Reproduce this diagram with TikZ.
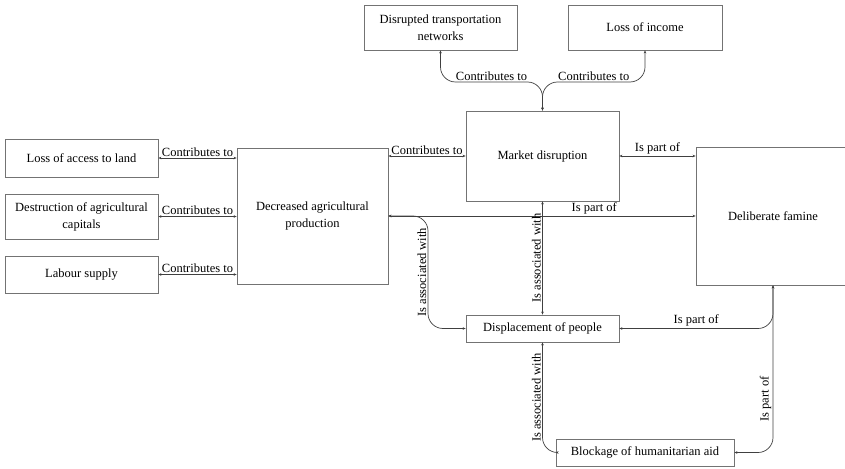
\documentclass[tikz,border=0pt]{standalone}
\usepackage{fontspec}
\setmainfont{Liberation Serif}
\usepackage{xcolor}
\usepackage{tikz}
\usetikzlibrary{arrows.meta}
\definecolor{boxgray}{gray}{0.45}
\definecolor{linegray}{gray}{0.25}

\tikzset{
  box/.style={draw=boxgray,line width=0.8pt,align=center,inner sep=2pt,
    font=\fontsize{12.5}{17}\selectfont},
  conn/.style={draw=linegray,line width=0.7pt,rounded corners=15pt,
    {Stealth[length=3pt,width=2.6pt]}-{Stealth[length=3pt,width=2.6pt]}},
  lbl/.style={inner sep=1.5pt,font=\fontsize{12.5}{14}\selectfont}
}

\begin{document}
\begin{tikzpicture}[x=1pt,y=-1pt]
\useasboundingbox (0,0) rectangle (845,468);
\node[box,minimum width=153pt,minimum height=45pt] (dtn) at (440.5,27.5) {Disrupted transportation\\networks};
\node[box,minimum width=154pt,minimum height=45pt] (loi) at (645,27.5) {Loss of income};
\node[box,minimum width=153pt,minimum height=90pt] (mkt) at (542.5,156) {Market disruption};
\node[box,minimum width=154pt,minimum height=138pt] (fam) at (773,216) {Deliberate famine};
\node[box,minimum width=151pt,minimum height=136pt] (dap) at (312.5,216) {Decreased agricultural\\production};
\node[box,minimum width=153pt,minimum height=38pt] (lal) at (81.5,158) {Loss of access to land};
\node[box,minimum width=153pt,minimum height=45pt] (dac) at (81.5,216.5) {Destruction of agricultural\\capitals};
\node[box,minimum width=153pt,minimum height=37pt] (lab) at (81.5,274.5) {Labour supply};
\node[box,minimum width=153pt,minimum height=27pt] (dis) at (542.5,328.5) {Displacement of people};
\node[box,minimum width=178pt,minimum height=27pt] (blk) at (645,452.5) {Blockage of humanitarian aid};

\coordinate (split) at (542.5,82);
\coordinate (bend) at (428,216);

% contributes to
\draw[conn] (lal.east) -- (dap.west |- lal.east) node[midway,above,lbl] {Contributes to};
\draw[conn] (dac.east) -- (dap.west |- dac.east) node[midway,above,lbl] {Contributes to};
\draw[conn] (lab.east) -- (dap.west |- lab.east) node[midway,above,lbl] {Contributes to};
\draw[conn] (dap.east |- mkt.west) -- (mkt.west) node[midway,above,lbl] {Contributes to};
\draw[conn] (dtn.south) |- node[pos=0.75,above,lbl] {Contributes to} (split) -- (mkt.north);
\draw[conn] (loi.south) |- node[pos=0.75,above,lbl] {Contributes to} (split) -- (mkt.north);

% is part of
\draw[conn] (mkt.east) -- (fam.west |- mkt.east) node[midway,above,lbl] {Is part of};
\draw[conn] (fam.west) -- (dap.east) node[pos=0.33,above,lbl] {Is part of};
\draw[conn] (dis.east) -| node[pos=0.25,above,lbl] {Is part of} (fam.south);
\draw[conn] (blk.east) -| node[pos=0.66,above,sloped,lbl] {Is part of} (fam.south);

% is associated with
\draw[conn] (dis.north) -- (mkt.south) node[midway,above,sloped,lbl] {Is associated with};
\draw[conn] (dis.west) -| node[pos=0.75,above,sloped,lbl] {Is associated with} (bend) -- (dap.east);
\draw[conn] (blk.west) -| node[pos=0.75,above,sloped,lbl] {Is associated with} (dis.south);
\end{tikzpicture}
\end{document}
